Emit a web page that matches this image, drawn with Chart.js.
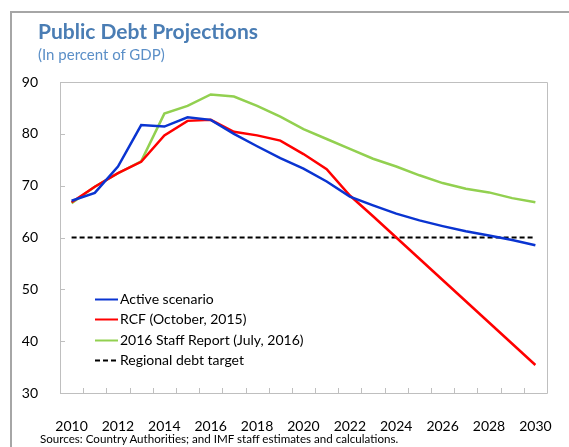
<!DOCTYPE html>
<html>
<head>
<meta charset="utf-8">
<script src="https://cdn.jsdelivr.net/npm/chart.js@4/dist/chart.umd.min.js"></script>
<style>
  html, body { margin: 0; padding: 0; background: #fff; }
  #wrap { position: relative; width: 569px; height: 447px; overflow: hidden; }
  #frame { position: absolute; left: 10px; top: 11px; width: 600px; height: 500px;
           border-left: 2px solid #a6a6a6; border-top: 2px solid #a6a6a6; }
  #title { position: absolute; left: 38px; top: 18px; font: bold 21px Lato, sans-serif; color: #4a7db4; white-space: nowrap; }
  #subtitle { position: absolute; left: 38px; top: 45px; font: 15px Lato, sans-serif; color: #5b8fc7; white-space: nowrap; }
  #source { position: absolute; left: 40px; top: 432px; font: 11.6px Lato, sans-serif; color: #000; white-space: nowrap; }
  canvas { position: absolute; left: 0; top: 0; }
</style>
</head>
<body>
<div id="wrap">
  <div id="frame"></div>
  <canvas id="c" width="569" height="447"></canvas>
  <div id="title">Public Debt Projections</div>
  <div id="subtitle">(In percent of GDP)</div>
  <div id="source">Sources: Country Authorities; and IMF staff estimates and calculations.</div>
</div>
<script>
const years = ['2010','2011','2012','2013','2014','2015','2016','2017','2018','2019','2020',
               '2021','2022','2023','2024','2025','2026','2027','2028','2029','2030'];
const activeScenario = [67.1, 68.6, 73.7, 81.7, 81.4, 83.2, 82.7, 80.0, 77.6, 75.3, 73.3,
                        70.8, 67.9, 66.2, 64.6, 63.3, 62.2, 61.2, 60.4, 59.5, 58.5];
const rcf2015 = [66.8, 69.8, 72.4, 74.6, 79.7, 82.5, 82.7, 80.4, 79.7, 78.7, 76.1,
                 73.2, 68.1, 64.1, 60.0, 55.9, 51.8, 47.7, 43.6, 39.5, 35.4];
const staffReport2016 = [66.6, 69.8, 72.4, 74.7, 83.9, 85.4, 87.6, 87.2, 85.4, 83.3, 80.9,
                         79.0, 77.1, 75.2, 73.7, 72.0, 70.5, 69.4, 68.7, 67.6, 66.8];
const regionalTarget = [60, 60, 60, 60, 60, 60, 60, 60, 60, 60, 60,
                        60, 60, 60, 60, 60, 60, 60, 60, 60, 60];
const yTicks = [30, 40, 50, 60, 70, 80, 90];
const seriesLabels = ['Active scenario', 'RCF (October, 2015)', '2016 Staff Report (July, 2016)', 'Regional debt target'];

const FONT = 'Lato, sans-serif';

const decorPlugin = {
  id: 'decor',
  beforeDatasetsDraw(chart) {
    const ctx = chart.ctx, a = chart.chartArea;
    const x = chart.scales.x, y = chart.scales.y;
    ctx.save();
    ctx.strokeStyle = '#bfbfbf';
    ctx.lineWidth = 1;
    ctx.beginPath();
    ctx.rect(Math.round(a.left) + 0.5, Math.round(a.top) + 0.5, Math.round(a.right - a.left), Math.round(a.bottom - a.top));
    ctx.stroke();
    ctx.beginPath();
    yTicks.forEach(v => {
      const py = Math.round(y.getPixelForValue(v)) + 0.5;
      ctx.moveTo(a.left, py); ctx.lineTo(a.left + 5, py);
    });
    const step = (x.getPixelForValue(1) - x.getPixelForValue(0));
    for (let i = 0; i <= years.length; i++) {
      const px = Math.round(x.getPixelForValue(0) - step / 2 + i * step) + 0.5;
      ctx.moveTo(px, a.bottom); ctx.lineTo(px, a.bottom - 5);
    }
    ctx.stroke();
    ctx.restore();
  },
  afterDatasetsDraw(chart) {
    const ctx = chart.ctx;
    const lx = 95, ly = 299, gap = 20.3, len = 23;
    ctx.save();
    ctx.font = '14px ' + FONT;
    ctx.textBaseline = 'middle';
    ctx.fillStyle = '#000';
    chart.data.datasets.forEach((ds, i) => {
      const yy = Math.round(ly + i * gap) + 0.5;
      ctx.strokeStyle = ds.borderColor;
      ctx.lineWidth = 2;
      ctx.setLineDash(ds.borderDash || []);
      ctx.beginPath();
      ctx.moveTo(lx, yy); ctx.lineTo(lx + len, yy);
      ctx.stroke();
      ctx.setLineDash([]);
      ctx.fillText(ds.label, lx + len + 2, yy);
    });
    ctx.restore();
  }
};

const mk = (label, data, color, width, dash) => ({
  label, data, borderColor: color, backgroundColor: color, borderWidth: width,
  borderDash: dash, pointRadius: 0, pointHoverRadius: 0, tension: 0, fill: false
});

new Chart(document.getElementById('c'), {
  type: 'line',
  data: {
    labels: years,
    datasets: [
      mk(seriesLabels[0], activeScenario, '#0a34d1', 2.5, []),
      mk(seriesLabels[1], rcf2015, '#ff0000', 2.5, []),
      mk(seriesLabels[2], staffReport2016, '#92d050', 2.5, []),
      mk(seriesLabels[3], regionalTarget, '#000000', 2, [5, 3])
    ]
  },
  options: {
    responsive: false,
    animation: false,
    devicePixelRatio: 1,
    layout: { padding: { left: 0, top: 82, right: 16, bottom: 0 } },
    plugins: { legend: { display: false }, title: { display: false }, tooltip: { enabled: false } },
    scales: {
      x: {
        type: 'category',
        offset: true,
        grid: { display: false },
        border: { display: true, color: '#bfbfbf', width: 1 },
        ticks: {
          autoSkip: false, maxRotation: 0, minRotation: 0, padding: 17,
          color: '#000', font: { family: FONT, size: 14 },
          callback: function(v, i) { return i % 2 === 0 ? years[i] : ''; }
        },
        afterFit(s) { s.height = 54; }
      },
      y: {
        min: 30, max: 90,
        grid: { display: false },
        border: { display: true, color: '#bfbfbf', width: 1 },
        ticks: { stepSize: 10, padding: 14, color: '#000', font: { family: FONT, size: 14 } },
        afterFit(s) { s.width = 60; }
      }
    }
  },
  plugins: [decorPlugin]
});
</script>
</body>
</html>
